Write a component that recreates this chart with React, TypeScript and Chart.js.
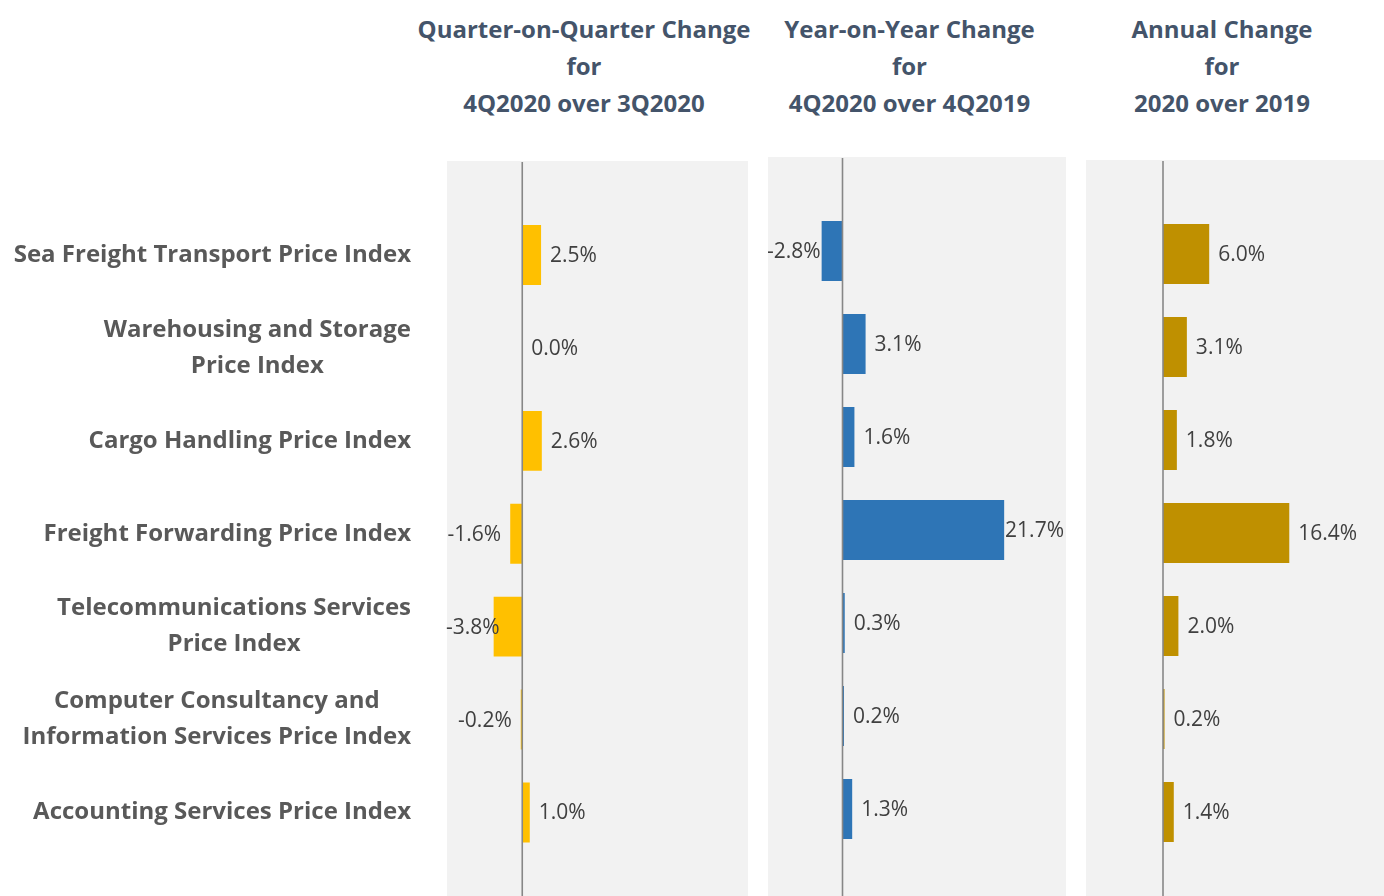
import React, { useEffect, useRef } from "react";
import { Chart, registerables } from "chart.js";

Chart.register(...registerables);

// ---------- data ----------
const categories: string[][] = [
  ["Sea Freight Transport Price Index"],
  ["Warehousing and Storage", "Price Index"],
  ["Cargo Handling Price Index"],
  ["Freight Forwarding Price Index"],
  ["Telecommunications Services", "Price Index"],
  ["Computer Consultancy and", "Information Services Price Index"],
  ["Accounting Services Price Index"],
];
const qoqValues = [2.5, 0.0, 2.6, -1.6, -3.8, -0.2, 1.0];
const yoyValues = [-2.8, 3.1, 1.6, 21.7, 0.3, 0.2, 1.3];
const annualValues = [6.0, 3.1, 1.8, 16.4, 2.0, 0.2, 1.4];
const qoqTitle = ["Quarter-on-Quarter Change", "for", "4Q2020 over 3Q2020"];
const yoyTitle = ["Year-on-Year Change", "for", "4Q2020 over 4Q2019"];
const annualTitle = ["Annual Change", "for", "2020 over 2019"];
const axisMin = -10;
const axisMax = 30;

// ---------- styles / layout ----------
const FONT = "'Open Sans', 'Noto Sans', sans-serif";
const CANVAS_TOP = 150;
const CANVAS_HEIGHT = 746;

type Panel = {
  values: number[];
  title: string[];
  color: string;
  left: number;
  width: number;
  padLeft: number;
  padTop: number;
  padBottom: number;
  bgTop: number;
  titleCenter: number;
  showLabels: boolean;
};

const panels: Panel[] = [
  { values: qoqValues, title: qoqTitle, color: "#FFC000", left: 0, width: 748, padLeft: 447, padTop: 58.6, padBottom: 37.1, bgTop: 161, titleCenter: 584, showLabels: true },
  { values: yoyValues, title: yoyTitle, color: "#2E75B6", left: 768, width: 298, padLeft: 0, padTop: 54.5, padBottom: 40.5, bgTop: 157, titleCenter: 909.5, showLabels: false },
  { values: annualValues, title: annualTitle, color: "#BF9000", left: 1086, width: 308, padLeft: 0, padTop: 57.5, padBottom: 37.5, bgTop: 160, titleCenter: 1222, showLabels: false },
];

function PanelChart({ p }: { p: Panel }) {
  const ref = useRef<HTMLCanvasElement>(null);
  useEffect(() => {
    if (!ref.current) return;
    const plugin = {
      id: "panelDecor",
      beforeDraw(chart: any) {
        const { ctx, chartArea } = chart;
        ctx.save();
        ctx.fillStyle = "#F2F2F2";
        ctx.fillRect(chartArea.left, p.bgTop - CANVAS_TOP, chartArea.right - chartArea.left, chart.height);
        ctx.restore();
      },
      afterDatasetsDraw(chart: any) {
        const { ctx, chartArea } = chart;
        const xs = chart.scales.x;
        const ys = chart.scales.y;
        const x0 = xs.getPixelForValue(0);
        ctx.save();
        ctx.strokeStyle = "#878787";
        ctx.lineWidth = 1.6;
        ctx.beginPath();
        ctx.moveTo(x0, p.bgTop - CANVAS_TOP + 1);
        ctx.lineTo(x0, chart.height);
        ctx.stroke();

        ctx.font = `21px ${FONT}`;
        ctx.fillStyle = "#404040";
        ctx.textBaseline = "middle";
        ctx.textAlign = "left";
        const visRight = Math.min(chartArea.right, 1384 - p.left);
        p.values.forEach((v, i) => {
          const y = ys.getPixelForValue(i) + 1;
          const xv = xs.getPixelForValue(v);
          const txt = `${v.toFixed(1)}%`;
          const w = ctx.measureText(txt).width;
          let start = v >= 0 ? xv + 9 : xv - 9 - w;
          // keep label inside the plot area
          start = Math.max(start, chartArea.left - 1);
          start = Math.min(start, visRight - w - 2);
          ctx.fillText(txt, start, y);
        });

        if (p.showLabels) {
          ctx.font = `bold 24px ${FONT}`;
          ctx.fillStyle = "#595959";
          ctx.textAlign = "center";
          const rightEdge = 411;
          const lh = 36;
          categories.forEach((lines, i) => {
            const yc = ys.getPixelForValue(i);
            const maxW = Math.max(...lines.map((l) => ctx.measureText(l).width));
            const cx = rightEdge - maxW / 2;
            const startY = yc - ((lines.length - 1) * lh) / 2;
            lines.forEach((l, j) => ctx.fillText(l, cx, startY + j * lh));
          });
        }
        ctx.restore();
      },
    };
    const chart = new Chart(ref.current, {
      type: "bar",
      data: {
        labels: categories.map((c) => c.join(" ")),
        datasets: [
          {
            data: p.values,
            backgroundColor: p.color,
            borderWidth: 0,
            barPercentage: 0.645,
            categoryPercentage: 1,
          },
        ],
      },
      options: {
        indexAxis: "y",
        responsive: false,
        animation: false,
        layout: { padding: { left: p.padLeft, right: 0, top: p.padTop, bottom: p.padBottom } },
        plugins: { legend: { display: false }, tooltip: { enabled: false }, title: { display: false } },
        scales: {
          x: { min: axisMin, max: axisMax, display: false },
          y: { display: false },
        },
      },
      plugins: [plugin],
    } as any);
    return () => chart.destroy();
  }, [p]);
  return (
    <canvas
      ref={ref}
      width={p.width}
      height={CANVAS_HEIGHT}
      style={{ position: "absolute", left: p.left, top: CANVAS_TOP, width: p.width, height: CANVAS_HEIGHT }}
    />
  );
}

export default function App() {
  return (
    <div
      style={{
        position: "absolute",
        left: 0,
        top: 0,
        width: 1384,
        height: 896,
        overflow: "hidden",
        background: "#FFFFFF",
      }}
    >
      {panels.map((p, i) => (
        <div
          key={"t" + i}
          style={{
            position: "absolute",
            left: p.titleCenter - 220,
            width: 440,
            top: 9.5,
            textAlign: "center",
            fontFamily: FONT,
            fontWeight: 700,
            fontSize: 24,
            lineHeight: "37px",
            color: "#44546A",
          }}
        >
          {p.title.map((t, j) => (
            <div key={j}>{t}</div>
          ))}
        </div>
      ))}
      {panels.map((p, i) => (
        <PanelChart key={i} p={p} />
      ))}
    </div>
  );
}
